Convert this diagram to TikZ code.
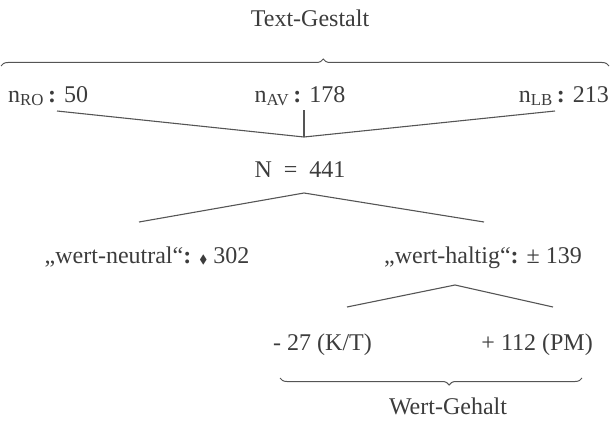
\documentclass[tikz,border=0pt]{standalone}
\usepackage{fontspec}
\usepackage{amssymb}
\setmainfont{Liberation Serif}
\usetikzlibrary{decorations.pathreplacing}
\definecolor{ink}{HTML}{3C3C3C}
\definecolor{rule}{HTML}{555555}

\begin{document}
\begin{tikzpicture}[x=1pt,y=-1pt,
	label/.style={inner sep=0pt,anchor=base,text=ink,font=\fontsize{24}{28}\selectfont},
	branch/.style={draw=rule,line width=1.1pt},
	curly/.style={draw=rule,line width=1pt,decorate,decoration={brace,amplitude=7pt}}]

	\useasboundingbox (0,0) rectangle (610,428);

	\node[label] (gestalt) at (310,27) {Text-Gestalt};
	\node[label,anchor=base west] (ro) at (8,102) {n\textsubscript{RO}\,\textbf{:} 50};
	\node[label] (av) at (300,102) {n\textsubscript{AV}\,\textbf{:} 178};
	\node[label,anchor=base east] (lb) at (609,102) {n\textsubscript{LB}\,\textbf{:} 213};
	\node[label] (total) at (300,177) {N\enspace=\enspace441};
	\node[label] (neutral) at (147,263) {„wert-neutral“\textbf{:} {\fontsize{12}{12}\selectfont$\blacklozenge$} 302};
	\node[label] (haltig) at (483,263) {„wert-haltig“\textbf{:} ± 139};
	\node[label,anchor=base west] (kt) at (273,350) {- 27 (K/T)};
	\node[label,anchor=base east] (pm) at (593,350) {+ 112 (PM)};
	\node[label] (gehalt) at (448,414) {Wert-Gehalt};

	\coordinate (roend) at (57,111);
	\coordinate (lbend) at (555,111);
	\coordinate (join) at (304,137);
	\coordinate (split) at (304,193);
	\coordinate (neutralend) at (139,222);
	\coordinate (haltigend) at (484,222);
	\coordinate (fork) at (455,285);
	\coordinate (ktend) at (347,307);
	\coordinate (pmend) at (553,307);

	\draw[branch] (roend) -- (join) -- (lbend);
	\draw[branch] (av.south -| join) ++(0,4) -- (join);
	\draw[branch] (neutralend) -- (split) -- (haltigend);
	\draw[branch] (ktend) -- (fork) -- (pmend);

	\draw[curly,decoration={aspect=0.53}] (1,66) -- (609,66);
	\draw[curly,decoration={aspect=0.44}] (582,378) -- (280,378);

\end{tikzpicture}
\end{document}
